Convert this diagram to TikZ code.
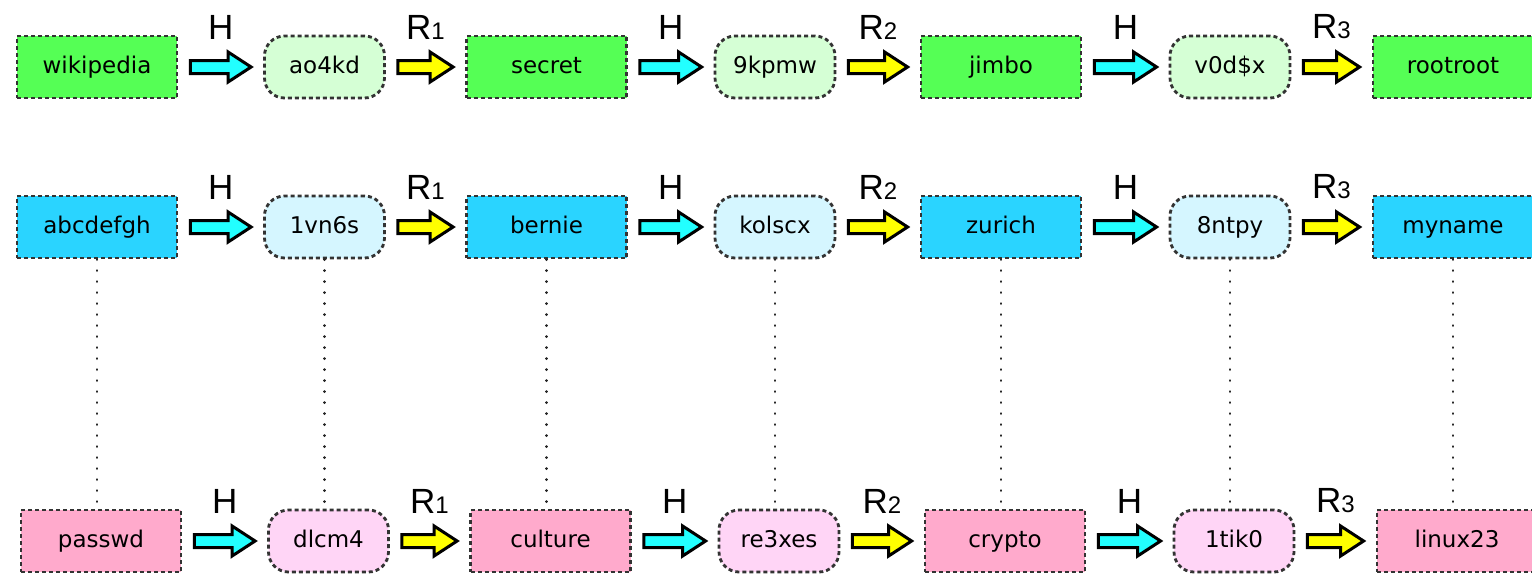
\documentclass[tikz,border=0pt]{standalone}
\usepackage{fontspec}
\setmainfont{DejaVu Sans}
\newfontfamily\labelfont{Liberation Sans}
\usepackage{tikz}
\usetikzlibrary{calc}
\definecolor{greenword}{HTML}{55FF55}
\definecolor{greenhash}{HTML}{D5FFD5}
\definecolor{blueword}{HTML}{2AD4FF}
\definecolor{bluehash}{HTML}{D5F6FF}
\definecolor{pinkword}{HTML}{FFAACC}
\definecolor{pinkhash}{HTML}{FFD5F6}
\definecolor{hashfill}{HTML}{22FFFF}
\definecolor{reducefill}{HTML}{FFFF00}
\tikzset{
	wordbox/.style={draw=black!80, dash pattern=on 4pt off 3pt, line width=2.8pt,
		minimum width=160pt, minimum height=62pt, inner sep=0pt,
		text height=16pt, text depth=4pt,
		font=\fontsize{23}{27}\selectfont},
	hashbox/.style={wordbox, rounded corners=20pt, minimum width=120pt},
	blockarrow/.style={draw=black, line width=3pt, line join=miter},
	steplabel/.style={font=\labelfont\fontsize{35}{40}\selectfont, inner sep=0pt},
	chainlink/.style={draw=black!85, line width=2.6pt, line cap=round, dash pattern=on 0.3pt off 10.7pt},
}
% block arrow from node #1 to node #2, fill #3, label #4
\newcommand{\chainstep}[4]{%
	\draw[blockarrow, fill=#3] let \p1=(#1.east), \p2=(#2.west) in
		(\x1+12pt,\y1-6.5pt) -- (\x2-35pt,\y1-6.5pt) -- (\x2-35pt,\y1-15pt) -- (\x2-12pt,\y1)
		-- (\x2-35pt,\y1+15pt) -- (\x2-35pt,\y1+6.5pt) -- (\x1+12pt,\y1+6.5pt) -- cycle;
	\path let \p1=(#1.east), \p2=(#2.west) in
		node[steplabel] at ({0.5*\x1+0.5*\x2},\y1+40pt) {#4};}
\newcommand{\Rn}[1]{R{\fontsize{24}{24}\selectfont #1}}

\begin{document}
\begin{tikzpicture}[x=1pt, y=-1pt]
	\useasboundingbox (0,0) rectangle (1532,574);
% first chain
\begin{scope}[wordbox/.append style={fill=greenword}, hashbox/.append style={fill=greenhash}]
	\node[wordbox] (a1) at (97,67) {wikipedia};
	\node[hashbox] (a2) at (324.5,67) {ao4kd};
	\node[wordbox] (a3) at (546.5,67) {secret};
	\node[hashbox] (a4) at (775,67) {9kpmw};
	\node[wordbox] (a5) at (1001,67) {jimbo};
	\node[hashbox] (a6) at (1230,67) {v0d\$x};
	\node[wordbox] (a7) at (1453,67) {rootroot};
	\chainstep{a1}{a2}{hashfill}{H}
	\chainstep{a2}{a3}{reducefill}{\Rn{1}}
	\chainstep{a3}{a4}{hashfill}{H}
	\chainstep{a4}{a5}{reducefill}{\Rn{2}}
	\chainstep{a5}{a6}{hashfill}{H}
	\chainstep{a6}{a7}{reducefill}{\Rn{3}}
\end{scope}
% second chain
\begin{scope}[shift={(0,160)}, wordbox/.append style={fill=blueword}, hashbox/.append style={fill=bluehash}]
	\node[wordbox] (b1) at (97,67) {abcdefgh};
	\node[hashbox] (b2) at (324.5,67) {1vn6s};
	\node[wordbox] (b3) at (546.5,67) {bernie};
	\node[hashbox] (b4) at (775,67) {kolscx};
	\node[wordbox] (b5) at (1001,67) {zurich};
	\node[hashbox] (b6) at (1230,67) {8ntpy};
	\node[wordbox] (b7) at (1453,67) {myname};
	\chainstep{b1}{b2}{hashfill}{H}
	\chainstep{b2}{b3}{reducefill}{\Rn{1}}
	\chainstep{b3}{b4}{hashfill}{H}
	\chainstep{b4}{b5}{reducefill}{\Rn{2}}
	\chainstep{b5}{b6}{hashfill}{H}
	\chainstep{b6}{b7}{reducefill}{\Rn{3}}
\end{scope}
% third chain
\begin{scope}[shift={(4,474)}, wordbox/.append style={fill=pinkword}, hashbox/.append style={fill=pinkhash}]
	\node[wordbox] (c1) at (97,67) {passwd};
	\node[hashbox] (c2) at (324.5,67) {dlcm4};
	\node[wordbox] (c3) at (546.5,67) {culture};
	\node[hashbox] (c4) at (775,67) {re3xes};
	\node[wordbox] (c5) at (1001,67) {crypto};
	\node[hashbox] (c6) at (1230,67) {1tik0};
	\node[wordbox] (c7) at (1453,67) {linux23};
	\chainstep{c1}{c2}{hashfill}{H}
	\chainstep{c2}{c3}{reducefill}{\Rn{1}}
	\chainstep{c3}{c4}{hashfill}{H}
	\chainstep{c4}{c5}{reducefill}{\Rn{2}}
	\chainstep{c5}{c6}{hashfill}{H}
	\chainstep{c6}{c7}{reducefill}{\Rn{3}}
\end{scope}
% dotted links between second and third chain
	\draw[chainlink] (b1.south) -- (b1.south |- c1.north);
	\draw[chainlink] (b2.south) -- (b2.south |- c2.north);
	\draw[chainlink] (b3.south) -- (b3.south |- c3.north);
	\draw[chainlink] (b4.south) -- (b4.south |- c4.north);
	\draw[chainlink] (b5.south) -- (b5.south |- c5.north);
	\draw[chainlink] (b6.south) -- (b6.south |- c6.north);
	\draw[chainlink] (b7.south) -- (b7.south |- c7.north);
\end{tikzpicture}
\end{document}
